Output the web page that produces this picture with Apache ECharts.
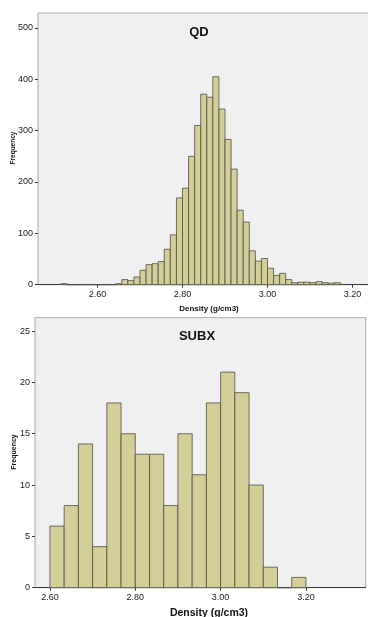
<!DOCTYPE html>
<html>
<head>
<meta charset="utf-8">
<script src="https://cdn.jsdelivr.net/npm/echarts@6/dist/echarts.min.js"></script>
<style>
  html, body { margin: 0; padding: 0; background: #fff; }
  #main { width: 368px; height: 617px; }
</style>
</head>
<body>
<div id="main"></div>
<script>
// QD histogram: bins of width 0.2/14, first bin near 2.51
const qdBinWidth = 0.2 / 14
const qdFirstEdge = 2.80 - 20 * qdBinWidth
const qdCounts = [
  2, 0, 0, 0, 0, 0, 0, 0, 0,
  2, 10, 8, 15, 28, 39, 41, 45, 69, 97, 169,
  188, 250, 310, 371, 365, 405, 342, 283, 225, 145, 122, 66, 46, 51,
  32, 18, 22, 10, 4, 5, 5, 4, 6, 4, 3, 4
]
const qdXTicks = [2.60, 2.80, 3.00, 3.20]
const qdYTicks = [0, 100, 200, 300, 400, 500]

// SUBX histogram: bins of width 1/30 starting at 2.60
const subxBinWidth = 0.2 / 6
const subxFirstEdge = 2.60
const subxCounts = [6, 8, 14, 4, 18, 15, 13, 13, 8, 15, 11, 18, 21, 19, 10, 2, 0, 1]
const subxXTicks = [2.60, 2.80, 3.00, 3.20]
const subxYTicks = [0, 5, 10, 15, 20, 25]

const BAR_FILL = '#d4cf98'
const BAR_LINE = '#4e4e44'
const TEXT = '#222'
const FONT = '"Liberation Sans", Arial, sans-serif'

function toBins (first, width, counts) {
  return counts.map((c, i) => [first + i * width, first + (i + 1) * width, c])
}

function renderBin (params, api) {
  const p0 = api.coord([api.value(0), api.value(2)])
  const p1 = api.coord([api.value(1), 0])
  return {
    type: 'rect',
    shape: { x: p0[0], y: p0[1], width: p1[0] - p0[0], height: p1[1] - p0[1] },
    style: { fill: BAR_FILL, stroke: BAR_LINE, lineWidth: 0.8 }
  }
}

function xAxisFor (idx, min, max, ticks) {
  return {
    type: 'value',
    gridIndex: idx,
    min: min,
    max: max,
    splitLine: { show: false },
    axisLine: { show: true, lineStyle: { color: '#3a3a3a', width: 1 } },
    axisTick: { show: true, length: 3, customValues: ticks, lineStyle: { color: '#3a3a3a' } },
    axisLabel: {
      customValues: ticks,
      margin: 5,
      fontSize: 9,
      fontFamily: FONT,
      color: TEXT,
      formatter: v => v.toFixed(2)
    }
  }
}

function yAxisFor (idx, max, ticks) {
  return {
    type: 'value',
    gridIndex: idx,
    min: 0,
    max: max,
    splitLine: { show: false },
    axisLine: { show: false },
    axisTick: { show: true, length: 3, customValues: ticks, lineStyle: { color: '#3a3a3a' } },
    axisLabel: {
      customValues: ticks,
      margin: 5,
      fontSize: 9,
      fontFamily: FONT,
      color: TEXT
    }
  }
}

function label (x, y, text, size, rotation) {
  return {
    type: 'text',
    x: x,
    y: y,
    rotation: rotation || 0,
    style: {
      text: text,
      align: 'center',
      verticalAlign: 'middle',
      font: 'bold ' + size + 'px ' + FONT,
      fill: '#111'
    }
  }
}

const chart = echarts.init(document.getElementById('main'), null, { renderer: 'canvas' })

chart.setOption({
  animation: false,
  backgroundColor: '#fff',
  grid: [
    { left: 38, top: 13, width: 340, height: 271.7, outerBoundsMode: 'none', show: true, backgroundColor: '#f0f0f0', borderColor: '#a8a8a8', borderWidth: 1 },
    { left: 35, top: 317.7, width: 330.7, height: 270, outerBoundsMode: 'none', show: true, backgroundColor: '#f0f0f0', borderColor: '#a8a8a8', borderWidth: 1 }
  ],
  xAxis: [
    xAxisFor(0, 2.46, 3.26, qdXTicks),
    xAxisFor(1, 2.565, 3.34, subxXTicks)
  ],
  yAxis: [
    yAxisFor(0, 529, qdYTicks),
    yAxisFor(1, 26.3, subxYTicks)
  ],
  graphic: [
    label(199, 32, 'QD', 13),
    label(209, 309, 'Density (g/cm3)', 8),
    label(13.5, 148, 'Frequency', 6.5, Math.PI / 2),
    label(197, 336, 'SUBX', 13),
    label(209, 613, 'Density (g/cm3)', 10.5),
    label(14.5, 452, 'Frequency', 7, Math.PI / 2)
  ],
  series: [
    {
      type: 'custom',
      xAxisIndex: 0,
      yAxisIndex: 0,
      renderItem: renderBin,
      encode: { x: [0, 1], y: 2 },
      data: toBins(qdFirstEdge, qdBinWidth, qdCounts)
    },
    {
      type: 'custom',
      xAxisIndex: 1,
      yAxisIndex: 1,
      renderItem: renderBin,
      encode: { x: [0, 1], y: 2 },
      data: toBins(subxFirstEdge, subxBinWidth, subxCounts)
    }
  ]
})
</script>
</body>
</html>
